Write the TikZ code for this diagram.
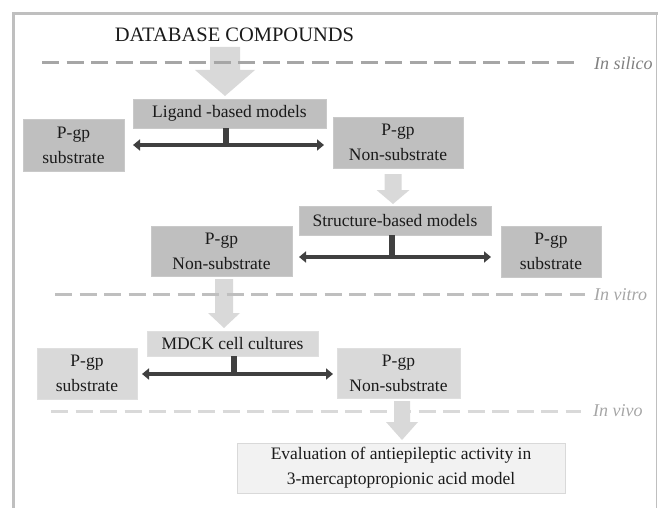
\documentclass[tikz,border=0pt]{standalone}
\usepackage{fontspec}
\setmainfont{Liberation Serif}
\usetikzlibrary{arrows.meta}
\definecolor{boxA}{HTML}{BFBFBF}
\definecolor{boxB}{HTML}{D9D9D9}
\definecolor{boxC}{HTML}{F2F2F2}
\definecolor{darkln}{HTML}{404040}
\definecolor{lightar}{HTML}{D9D9D9}
\definecolor{txt}{HTML}{1A1A1A}
\tikzset{
  pbox/.style={rectangle, inner sep=0pt, align=center, text=txt,
    font=\fontsize{17.5}{25}\selectfont},
  darkbox/.style={pbox, fill=boxA, draw=boxA!85!white, line width=0.6pt},
  lightbox/.style={pbox, fill=boxB, draw=boxB!85!white, line width=0.6pt},
  palebox/.style={pbox, fill=boxC, draw=boxB, line width=0.8pt},
  dbl/.style={draw=darkln, line width=4.5pt,
    {Triangle[length=7pt,width=11pt]}-{Triangle[length=7pt,width=11pt]}},
  stemline/.style={draw=darkln, line width=5.5pt},
  flowarrow/.style={fill=lightar, draw=none},
  phase/.style={line width=3pt, dash pattern=on 17pt off 7.5pt},
  phaselabel/.style={font=\fontsize{18}{20}\selectfont\itshape, anchor=base west, inner sep=0pt},
  frameline/.style={draw=boxA, line width=3pt}
}
\begin{document}
\begin{tikzpicture}[x=1pt,y=-1pt]
\useasboundingbox (0,0) rectangle (658,508);
% frame
\draw[frameline] (13.5,508) -- (13.5,13.5) -- (658,13.5);
\draw[draw=boxA, line width=1pt] (656,13.5) -- (656,508);

% title
\node[anchor=base, inner sep=0pt, text=txt, font=\fontsize{20.5}{24}\selectfont] (title) at (234.5,42) {DATABASE COMPOUNDS};

% big arrow
\fill[flowarrow] (210,47) -- (240,47) -- (240,70) -- (255,70) -- (225,96) -- (195,70) -- (210,70) -- cycle;

% phase lines
\draw[phase, draw=black!35] (42,63) -- (576,63);
\node[phaselabel, text=black!50] (silico) at (594,70) {In silico};

% row 1
\node[darkbox, minimum width=193pt, minimum height=29pt] (lig) at (229.5,113.5) {Ligand -based models};
\node[darkbox, minimum width=101pt, minimum height=52pt] (sub1) at (73.5,145) {P-gp\\substrate};
\node[darkbox, minimum width=130pt, minimum height=51pt] (non1) at (398,142.5) {P-gp\\Non-substrate};
\coordinate (r1l) at (133,145);
\coordinate (r1r) at (324,145);
\coordinate (r1s) at (226,145);
\draw[stemline] (lig.south -| r1s) -- (r1s);
\draw[dbl] (r1l) -- (r1r);

% arrow 1
\fill[flowarrow] (384.5,174) -- (401.5,174) -- (401.5,190) -- (409.5,190) -- (393,204) -- (376.5,190) -- (384.5,190) -- cycle;

% row 2
\node[darkbox, minimum width=192pt, minimum height=29pt] (struct) at (395,220.5) {Structure-based models};
\node[darkbox, minimum width=141pt, minimum height=50pt] (non2) at (221.5,251) {P-gp\\Non-substrate};
\node[darkbox, minimum width=100pt, minimum height=51pt] (sub2) at (551,251.5) {P-gp\\substrate};
\coordinate (r2l) at (299,257);
\coordinate (r2r) at (491,257);
\coordinate (r2s) at (392,257);
\draw[stemline] (struct.south -| r2s) -- (r2s);
\draw[dbl] (r2l) -- (r2r);

% arrow 3
\fill[flowarrow] (215,279) -- (233,279) -- (233,313) -- (240,313) -- (224,328) -- (208,313) -- (215,313) -- cycle;
\draw[phase, draw=boxA] (55,294) -- (585,294);
\node[phaselabel, text=black!35] (vitro) at (594,300.5) {In vitro};

% row 3
\node[lightbox, minimum width=171pt, minimum height=25pt] (mdck) at (232.5,343.5) {MDCK cell cultures};
\node[lightbox, minimum width=100pt, minimum height=51pt] (sub3) at (87,373.5) {P-gp\\substrate};
\node[lightbox, minimum width=123pt, minimum height=50pt] (non3) at (398.5,373) {P-gp\\Non-substrate};
\coordinate (r3l) at (142,374);
\coordinate (r3r) at (333,374);
\coordinate (r3s) at (234,374);
\draw[stemline] (mdck.south -| r3s) -- (r3s);
\draw[dbl] (r3l) -- (r3r);

% arrow 4
\fill[flowarrow] (394,401) -- (410,401) -- (410,422) -- (418,422) -- (402,440) -- (386,422) -- (394,422) -- cycle;
\draw[phase, draw=boxB] (51,411) -- (581,411);
\node[phaselabel, text=black!35] (vivo) at (593,416) {In vivo};

% evaluation
\node[palebox, minimum width=328pt, minimum height=50pt] (evalbox) at (401,468) {Evaluation of antiepileptic activity in\\3-mercaptopropionic acid model};
\end{tikzpicture}
\end{document}
